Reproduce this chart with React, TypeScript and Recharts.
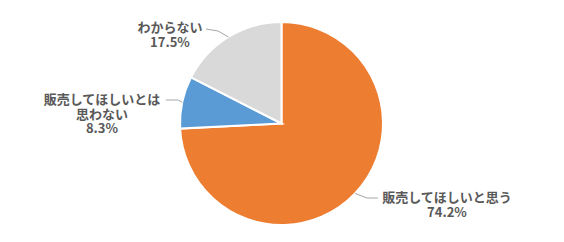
import { PieChart, Pie, Cell } from 'recharts';

const categories = ['販売してほしいと思う', '販売してほしいとは思わない', 'わからない'];
const shares = [74.2, 8.3, 17.5];
const colors = ['#ED7D31', '#5B9BD5', '#D9D9D9'];
// label text split into lines
const labelLines = [['販売してほしいと思う'], ['販売してほしいとは', '思わない'], ['わからない']];

const data = categories.map((name, i) => ({ name, value: shares[i] }));

// text anchor (center of first line) and leader elbow for each slice
const labelLayout = [
  { tx: 447, ty: 196, elbow: [367, 198], end: [378, 198] },
  { tx: 102, ty: 98, elbow: [178, 100], end: [166, 100] },
  { tx: 170, ty: 26, elbow: [218, 31], end: [206, 29] },
];

const RAD = Math.PI / 180;

const renderLabel = (props: any) => {
  const { cx, cy, midAngle, outerRadius, index } = props;
  const px = cx + outerRadius * Math.cos(-midAngle * RAD);
  const py = cy + outerRadius * Math.sin(-midAngle * RAD);
  const l = labelLayout[index];
  const lines = [...labelLines[index], `${shares[index].toFixed(1)}%`];
  return (
    <g key={index}>
      <polyline
        points={`${px},${py} ${l.elbow[0]},${l.elbow[1]} ${l.end[0]},${l.end[1]}`}
        fill="none"
        stroke="#A6A6A6"
        strokeWidth={1}
      />
      <text
        x={l.tx}
        y={l.ty}
        textAnchor="middle"
        dominantBaseline="central"
        fill="#595959"
        fontSize={13}
        fontWeight="bold"
        fontFamily="'Noto Sans CJK JP', sans-serif"
      >
        {lines.map((t, j) => (
          <tspan key={j} x={l.tx} dy={j === 0 ? 0 : 14.5}>
            {t}
          </tspan>
        ))}
      </text>
    </g>
  );
};

export default function App() {
  return (
    <div style={{ position: 'absolute', left: 0, top: 0, background: '#fff' }}>
      <PieChart width={564} height={242} margin={{ top: 0, right: 0, bottom: 0, left: 0 }}>
        <Pie
          data={data}
          dataKey="value"
          cx={281.5}
          cy={123.5}
          outerRadius={101.5}
          startAngle={90}
          endAngle={-270}
          stroke="#fff"
          strokeWidth={2}
          label={renderLabel}
          labelLine={false}
          isAnimationActive={false}
        >
          {data.map((d, i) => (
            <Cell key={d.name} fill={colors[i]} />
          ))}
        </Pie>
      </PieChart>
    </div>
  );
}
